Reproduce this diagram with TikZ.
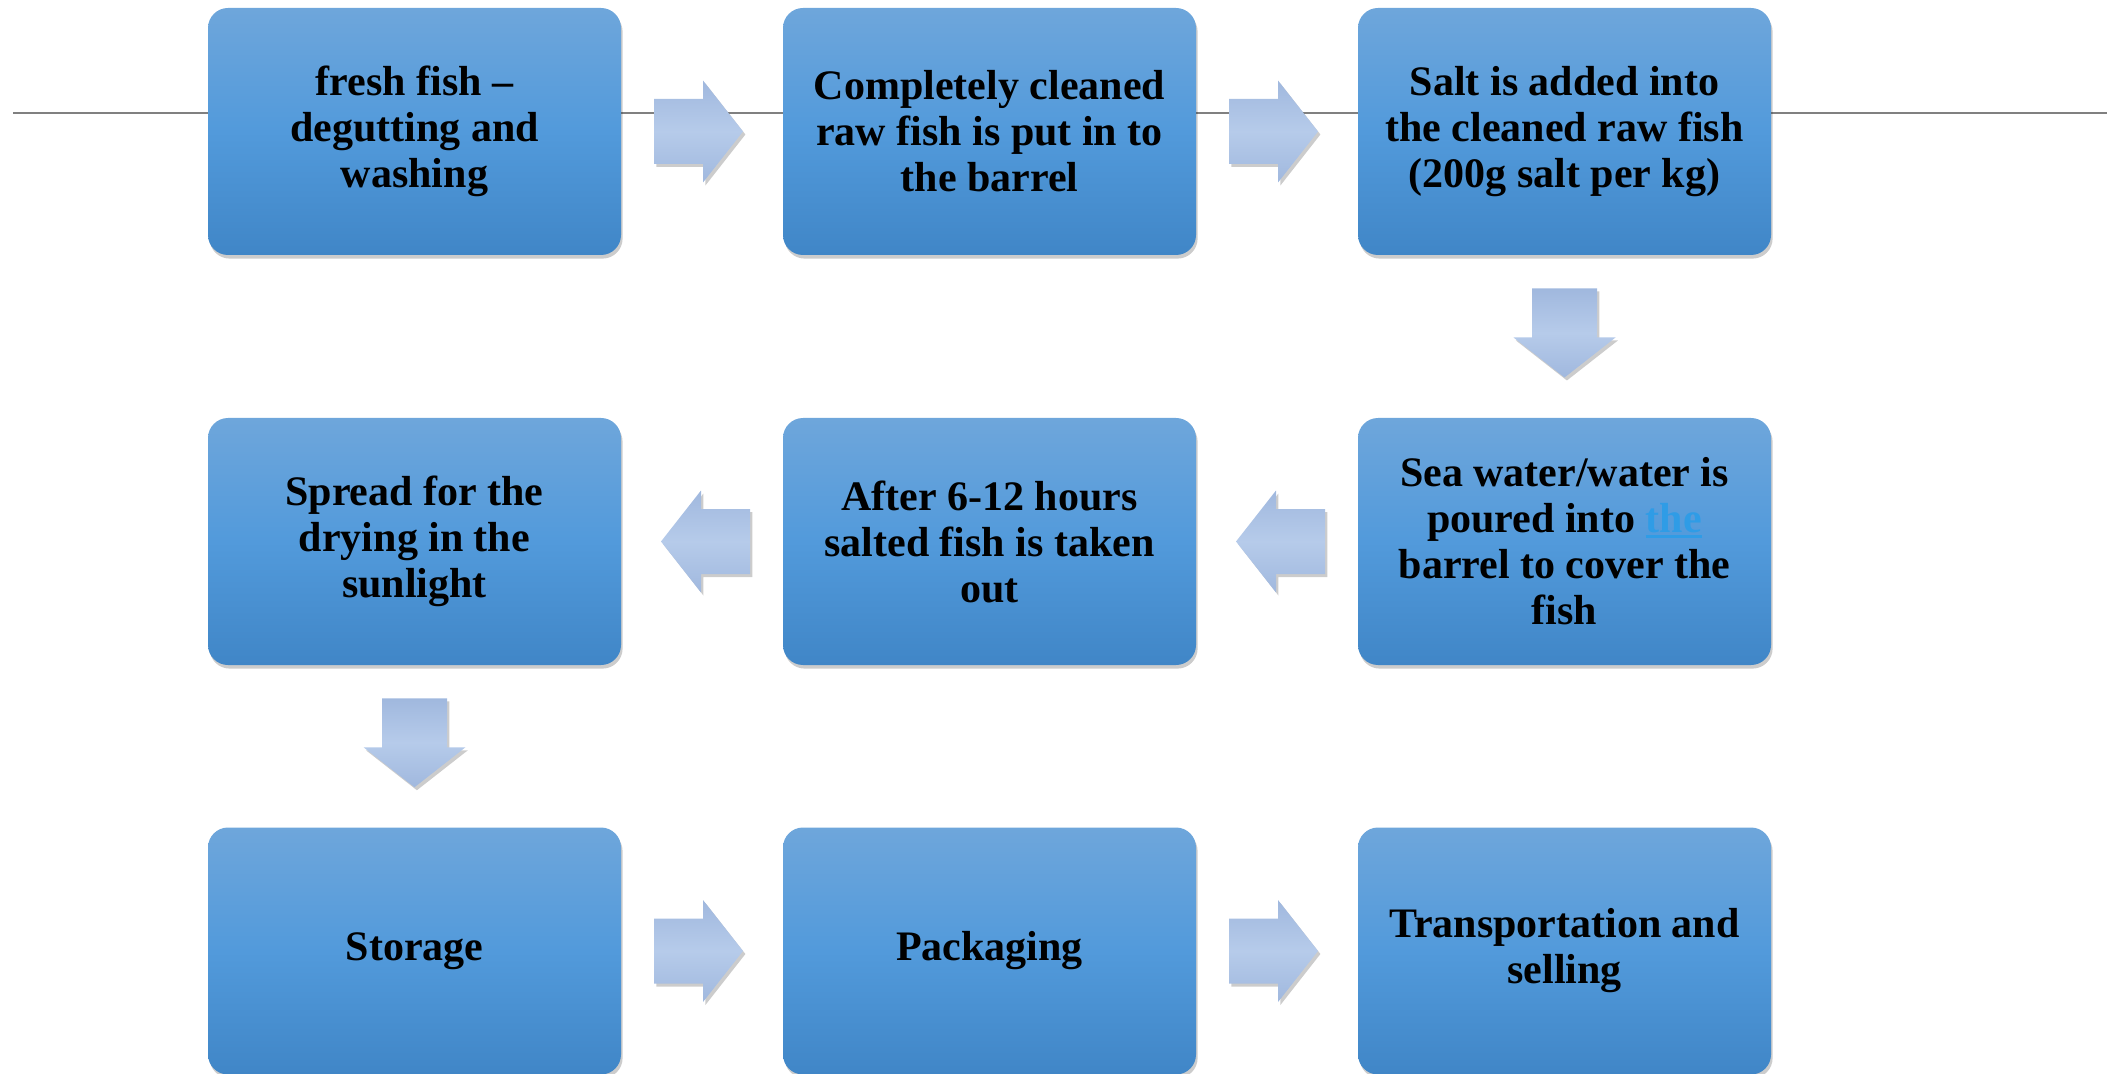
\documentclass[tikz,border=0pt]{standalone}
\usepackage{fontspec}
\setmainfont{Liberation Serif}
\usepackage{tikz}
\usetikzlibrary{calc, shadows}
\usepackage{xcolor}

\definecolor{boxtop}{RGB}{110,166,219}
\definecolor{boxmid}{RGB}{82,154,219}
\definecolor{boxbot}{RGB}{64,134,199}
\definecolor{arrowdark}{RGB}{160,184,222}
\definecolor{arrowlight}{RGB}{182,203,234}
\definecolor{linkblue}{RGB}{47,156,230}

\tikzset{
    stepbox/.style={rectangle, rounded corners=10pt, minimum width=206.5pt,
        minimum height=123.5pt, inner sep=0pt, align=center,
        top color=boxtop, bottom color=boxbot, middle color=boxmid,
        drop shadow={shadow xshift=0.8pt, shadow yshift=-1.8pt, opacity=0.2, fill=black},
        font=\fontsize{21}{23}\selectfont\bfseries},
    fatarrow/.style={top color=arrowdark, bottom color=arrowdark, middle color=arrowlight,
        drop shadow={shadow xshift=1.2pt, shadow yshift=-1.5pt, opacity=0.2, fill=black}}
}

% underlined link word
\newcommand{\linkword}[1]{\textcolor{linkblue}{\setbox0\hbox{#1}\rlap{\rule[-2.5pt]{\wd0}{1.3pt}}\box0}}

% block arrow between two steps, #3 = direction
\newcommand{\flowarrow}[3]{%
    \begin{scope}[shift={($(#1)!0.5!(#2)$)}, rotate=#3]
        \path[fatarrow] (-48,-32.5) -- (1,-32.5) -- (1,-51) -- (41,0) -- (1,51) -- (1,32.5) -- (-48,32.5) -- cycle;
    \end{scope}}

\begin{document}
\begin{tikzpicture}[x=0.5pt, y=-0.5pt]

        \useasboundingbox (0,0) rectangle (2107,1074);

        \coordinate (LL) at (13,113);

        \coordinate (LR) at (2107,113);

        \draw[gray, line width=1pt] (LL) -- (LR);

        \node[stepbox] (fresh) at (414.5,131.5) {fresh fish --\\degutting and\\washing};

        \node[stepbox] (barrel) at (989.5,131.5) {Completely cleaned\\raw fish is put in to\\the barrel};

        \node[stepbox] (salt) at (1564.5,131.5) {Salt is added into\\the cleaned raw fish\\(200g salt per kg)};

        \node[stepbox] (water) at (1564.5,541.5) {Sea water/water is\\poured into \linkword{the}\\barrel to cover the\\fish};

        \node[stepbox] (after) at (989.5,541.5) {After 6-12 hours\\salted fish is taken\\out};

        \node[stepbox] (spread) at (414.5,541.5) {Spread for the\\drying in the\\sunlight};

        \node[stepbox] (storage) at (414.5,951) {Storage};

        \node[stepbox] (packaging) at (989.5,951) {Packaging};

        \node[stepbox] (selling) at (1564.5,951) {Transportation and\\selling};

        \flowarrow{fresh}{barrel}{0}

        \flowarrow{barrel}{salt}{0}

        \flowarrow{salt}{water}{-90}

        \flowarrow{water}{after}{180}

        \flowarrow{after}{spread}{180}

        \flowarrow{spread}{storage}{-90}

        \flowarrow{storage}{packaging}{0}

        \flowarrow{packaging}{selling}{0}

    \end{tikzpicture}
\end{document}
